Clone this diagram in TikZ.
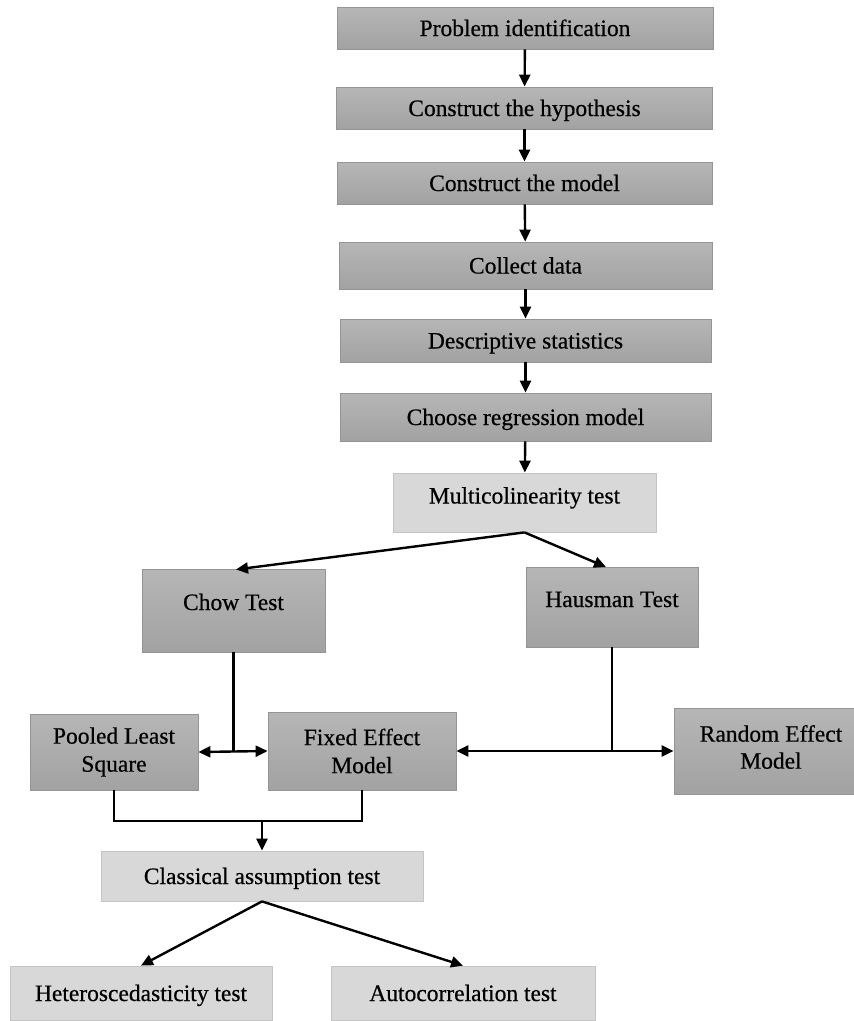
\documentclass[tikz,border=0pt]{standalone}
\usepackage{fontspec}
\setmainfont{Liberation Serif}
\newfontfamily\boxfont{Liberation Serif}[FakeBold=0.5]
\usetikzlibrary{arrows.meta}
\definecolor{darkTop}{HTML}{B6B6B6}
\definecolor{darkBot}{HTML}{A2A2A2}
\definecolor{darkEdge}{HTML}{949494}
\definecolor{lightFill}{HTML}{D8D8D8}
\definecolor{lightEdge}{HTML}{C4C4C4}
\begin{document}
\begin{tikzpicture}[x=1pt,y=-1pt,
  box/.style={rectangle,inner sep=0pt,align=center,
    font=\boxfont\fontsize{23.5}{28}\selectfont},
  oneline/.style={text height=16pt,text depth=0pt},
  darkbox/.style={box,top color=darkTop,bottom color=darkBot,draw=darkEdge,line width=0.8pt},
  lightbox/.style={box,fill=lightFill,draw=lightEdge,line width=0.8pt},
  sized/.style 2 args={minimum width=#1,minimum height=#2},
  tip/.tip={Triangle[length=12pt,width=11pt]},
  flow/.style={line width=2.4pt,-tip},
  twoway/.style={line width=2.4pt,tip-tip},
  plain/.style={line width=2.4pt}]
\useasboundingbox (0,0) rectangle (854,1021);
\clip (0,0) rectangle (854,1021);

% main vertical sequence
\node[darkbox,oneline,sized={376pt}{42pt}] (b1) at (525,28) {Problem identification};
\node[darkbox,oneline,sized={376pt}{42pt}] (b2) at (524.5,108) {Construct the hypothesis};
\node[darkbox,oneline,sized={375pt}{42pt}] (b3) at (524.5,183) {Construct the model};
\node[darkbox,oneline,sized={373pt}{47pt}] (b4) at (525.5,265.5) {Collect data};
\node[darkbox,oneline,sized={371pt}{43pt}] (b5) at (525.5,340.5) {Descriptive statistics};
\node[darkbox,oneline,sized={371pt}{48pt}] (b6) at (525.5,417) {Choose regression model};
\node[lightbox,text height=16pt,text depth=14pt,sized={263pt}{59pt}] (multi) at (524.5,502.5) {Multicolinearity test};

% panel tests
\node[darkbox,text height=16pt,text depth=17pt,sized={183pt}{83pt}] (chow) at (233.5,610.5) {Chow Test};
\node[darkbox,text height=16pt,text depth=16pt,sized={172pt}{80pt}] (haus) at (612,607) {Hausman Test};

% estimation models
\node[darkbox,sized={168pt}{76pt}] (pooled) at (114,752) {Pooled Least\\Square};
\node[darkbox,sized={188pt}{78pt}] (fixed) at (362,751) {Fixed Effect\\Model};
\node[darkbox,sized={186pt}{86pt}] (random) at (767,751) {};
\node[box,font=\boxfont\fontsize{23.5}{27}\selectfont] (randomtext) at (771,747) {Random Effect\\Model};

% assumption tests
\node[lightbox,oneline,sized={322pt}{50pt}] (classic) at (262,876) {Classical assumption test};
\node[lightbox,oneline,sized={262pt}{54pt}] (hetero) at (141,993) {Heteroscedasticity test};
\node[lightbox,oneline,sized={264pt}{54pt}] (auto) at (463,993) {Autocorrelation test};

% junction points
\coordinate (cj) at (chow.south |- pooled.east);
\coordinate (hj) at (haus.south |- fixed.east);
\coordinate (pl) at (pooled.south |- 0,821);
\coordinate (fl) at (fixed.south |- 0,821);
\coordinate (mj) at (classic.north |- 0,821);

% connectors
\draw[flow] (b1) -- (b2);
\draw[flow] (b2) -- (b3);
\draw[flow] (b3) -- (b4);
\draw[flow] (b4) -- (b5);
\draw[flow] (b5) -- (b6);
\draw[flow] (b6) -- (multi);
\draw[flow] (multi.south) -- (236,569.5);
\draw[flow] (multi.south) -- (606,567);
\draw[plain] (chow.south) -- (cj);
\draw[twoway] (pooled.east) -- (fixed.west);
\draw[plain] (haus.south) -- (hj);
\draw[twoway] (fixed.east) -- (random.west);
\draw[plain,line join=miter] (pooled.south) -- (pl) -- (fl) -- (fixed.south);
\draw[flow] (mj) -- (classic.north);
\draw[flow] (classic.south) -- (hetero.north);
\draw[flow] (classic.south) -- (auto.north);
\end{tikzpicture}
\end{document}
